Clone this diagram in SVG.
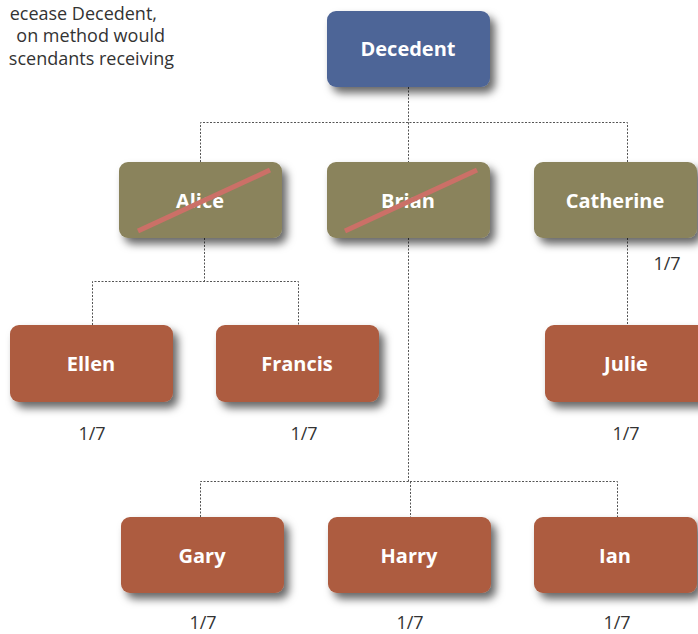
<svg xmlns="http://www.w3.org/2000/svg" width="698" height="634" viewBox="0 0 698 634">
<defs>
<filter id="sh" x="-20%" y="-20%" width="150%" height="160%">
<feDropShadow dx="5" dy="6" stdDeviation="4" flood-color="#000" flood-opacity="0.6"/>
</filter>
</defs>
<style>
.box{filter:url(#sh)}
.blue{fill:#4e6597}
.olive{fill:#8a835b}
.rust{fill:#ad5c40}
.lbl{font-family:"Open Sans","Liberation Sans",sans-serif;font-weight:bold;font-size:20px;fill:#fff;text-anchor:middle}
.frac{font-family:"Open Sans","Liberation Sans",sans-serif;font-size:18px;fill:#333;text-anchor:middle}
.note{font-family:"Open Sans","Liberation Sans",sans-serif;font-size:18px;fill:#333;text-anchor:end}
.con{fill:none;stroke:#555;stroke-width:1;stroke-dasharray:2 1.5}
.strike{stroke:#cb7067;stroke-width:5;stroke-linecap:butt}
</style>
<rect width="698" height="634" fill="#fff"/>
<text class="note" x="157" y="20">ecease Decedent,</text>
<text class="note" x="165" y="42">on method would</text>
<text class="note" x="174" y="65">scendants receiving</text>
<g id="connectors">
<path class="con" d="M408.5 87V122.5M200.5 162V122.5H627.5V162M408.5 122.5V162"/>
<path class="con" d="M204.5 238V281.5M92.5 325V281.5H298.5V325"/>
<path class="con" d="M408.5 238V481.5M200.5 517V481.5H617.5V517M410.5 481.5V517"/>
<path class="con" d="M627.5 238V325"/>
</g>
<g id="decedent"><rect class="box blue" x="327" y="11" width="163" height="76" rx="9"/><text class="lbl" x="408" y="56">Decedent</text></g>
<g id="alice"><rect class="box olive" x="119" y="162" width="163" height="76" rx="9"/><text class="lbl" x="200" y="208">Alice</text><line class="strike" x1="138" y1="231" x2="270" y2="170"/></g>
<g id="brian"><rect class="box olive" x="327" y="162" width="163" height="76" rx="9"/><text class="lbl" x="408" y="208">Brian</text><line class="strike" x1="345" y1="231" x2="477" y2="170"/></g>
<g id="catherine"><rect class="box olive" x="534" y="162" width="163" height="76" rx="9"/><text class="lbl" x="615" y="208">Catherine</text><text class="frac" x="667" y="270">1/7</text></g>
<g id="ellen"><rect class="box rust" x="10" y="325" width="163" height="77" rx="9"/><text class="lbl" x="91" y="371">Ellen</text><text class="frac" x="92" y="440">1/7</text></g>
<g id="francis"><rect class="box rust" x="216" y="325" width="163" height="77" rx="9"/><text class="lbl" x="297" y="371">Francis</text><text class="frac" x="304" y="440">1/7</text></g>
<g id="julie"><rect class="box rust" x="545" y="325" width="163" height="77" rx="9"/><text class="lbl" x="626" y="371">Julie</text><text class="frac" x="626" y="440">1/7</text></g>
<g id="gary"><rect class="box rust" x="121" y="517" width="163" height="76" rx="9"/><text class="lbl" x="202" y="563">Gary</text><text class="frac" x="203" y="629">1/7</text></g>
<g id="harry"><rect class="box rust" x="328" y="517" width="163" height="76" rx="9"/><text class="lbl" x="409" y="563">Harry</text><text class="frac" x="410" y="629">1/7</text></g>
<g id="ian"><rect class="box rust" x="534" y="517" width="163" height="76" rx="9"/><text class="lbl" x="615" y="563">Ian</text><text class="frac" x="617" y="629">1/7</text></g>
</svg>
